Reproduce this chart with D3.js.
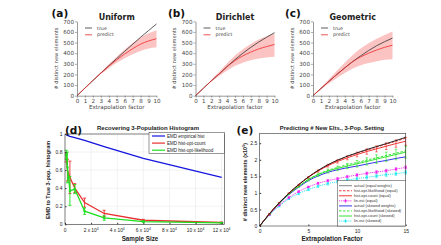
<!DOCTYPE html>
<html><head><meta charset="utf-8">
<script src="https://cdn.jsdelivr.net/npm/d3@7"></script>
<style>body{margin:0;background:#fff}svg{display:block}</style>
</head><body>
<svg id="c" width="441" height="245"></svg>
<script>
// ---------- top panels data ----------
const factors = [0,1,2,3,4,5,6,7,8,9,10];
const topTicksY = [0,100,200,300,400,500,600,700];
const uniformTrue = [0,72,143,213,282,350,418,484,550,613,675];
const uniformPred = [0,72,143,212,278,338,393,442,485,515,536];
const uniformLo   = [0,72,142,203,259,309,352,389,421,443,456];
const uniformHi   = [0,72,144,221,297,367,434,495,548,587,615];
const dirTrue = [0,70,140,205,275,340,400,455,505,550,593];
const dirPred = [0,70,140,205,272,330,375,410,440,462,482];
const dirLo   = [0,69,132,185,238,281,311,333,351,360,366];
const dirHi   = [0,71,148,225,306,378,437,487,528,560,588];
const geoTrue = [0,68,135,200,262,322,375,425,470,508,542];
const geoPred = [0,68,135,200,262,320,365,400,430,455,475];
const geoLo   = [0,60,115,166,213,256,287,307,325,339,343];
const geoHi   = [0,76,155,234,311,383,444,493,535,572,605];

// ---------- panel d data ----------
const sampleSizes = [937,1875,3750,7500,15000,30000,60000,120000];
const emdEmpirical = [0.99,0.985,0.975,0.96,0.93,0.86,0.73,0.52];
const emdCount     = [0.74,0.60,0.52,0.40,0.24,0.12,0.045,0.02];
const emdCountErr  = [0.05,0.12,0.18,0.05,0.05,0.035,0.01,0.005];
const emdLik       = [0.77,0.63,0.37,0.39,0.145,0.07,0.03,0.015];
const emdLikErr    = [0.05,0.17,0.16,0.05,0.035,0.025,0.008,0.005];
const dTicksX = [0,20000,40000,60000,80000,100000,120000];
const dTickMant = ["0","2","4","6","8","10","12"];
const dTicksY = [0,0.2,0.4,0.6,0.8,1];
const dLegend = ["EMD empirical hist","EMD hist-opt-count","EMD hist-opt-likelihood"];

// ---------- panel e data ----------
const extFactors = [0,1,2,3,4,5,6,7,8,9,10,11,12,13,14,15];
const actualEqual  = [0,0.37,0.70,0.99,1.25,1.48,1.68,1.85,1.99,2.11,2.21,2.31,2.40,2.49,2.58,2.68];
const likEqual     = [0,0.37,0.70,0.99,1.25,1.48,1.67,1.84,1.98,2.10,2.20,2.29,2.38,2.47,2.56,2.65];
const countEqual   = [0,0.37,0.70,0.99,1.24,1.47,1.66,1.82,1.95,2.06,2.16,2.25,2.33,2.41,2.49,2.56];
const countEqualErr= [0,0,0.01,0.01,0.02,0.02,0.03,0.04,0.05,0.06,0.07,0.08,0.09,0.10,0.11,0.12];
const linEqual     = [0,0.34,0.63,0.86,1.04,1.18,1.29,1.37,1.43,1.49,1.54,1.59,1.63,1.67,1.72,1.77];
const linEqualErr  = [0,0.01,0.01,0.02,0.02,0.02,0.03,0.03,0.03,0.03,0.04,0.04,0.04,0.04,0.04,0.04];
const actualSkew   = [0,0.36,0.68,0.95,1.17,1.37,1.51,1.62,1.70,1.76,1.81,1.87,1.93,1.98,2.04,2.09];
const likSkew      = [0,0.36,0.69,0.97,1.20,1.41,1.56,1.68,1.77,1.85,1.92,1.99,2.06,2.13,2.20,2.27];
const countSkew    = [0,0.36,0.69,0.97,1.20,1.40,1.55,1.66,1.74,1.81,1.88,1.95,2.02,2.09,2.16,2.23];
const countSkewErr = [0,0,0.01,0.02,0.03,0.04,0.05,0.06,0.07,0.08,0.10,0.11,0.13,0.14,0.16,0.18];
const linSkew      = [0,0.33,0.60,0.82,0.98,1.10,1.20,1.28,1.34,1.39,1.43,1.47,1.51,1.55,1.58,1.62];
const linSkewErr   = [0,0.01,0.02,0.02,0.03,0.03,0.03,0.04,0.04,0.04,0.04,0.05,0.05,0.05,0.05,0.05];
const eTicksX = [0,5,10,15];
const eTicksY = [0,0.5,1,1.5,2,2.5];
const eLegend = ["actual (equal weights)","hist-opt-likelihood (equal)","hist-opt-count  (equal)","lin-est (equal)",
                 "actual (skewed weights)","hist-opt-likelihood (skewed)","hist-opt-count (skewed)","lin-est (skewed)"];

const svg = d3.select("#c");
const MPL = "DejaVu Sans", ARI = "Liberation Sans";

// ---------- top panels ----------
function topPanel(x0, x1, tv, pv, lo, hi, title, letter, letterX) {
  const x = d3.scaleLinear().domain([0,10]).range([x0,x1]);
  const y = d3.scaleLinear().domain([0,700]).range([95.7,21.3]);
  const g = svg.append("g");
  g.append("path").datum(factors)
    .attr("d", d3.area().x(d=>x(d)).y0((d,i)=>y(lo[i])).y1((d,i)=>y(hi[i])).curve(d3.curveMonotoneX))
    .attr("fill","#fbb9b9").attr("opacity",0.85);
  g.append("path").datum(tv)
    .attr("d", d3.line().x((d,i)=>x(factors[i])).y(d=>y(d)).curve(d3.curveMonotoneX))
    .attr("fill","none").attr("stroke","#333").attr("stroke-width",0.8);
  g.append("path").datum(pv)
    .attr("d", d3.line().x((d,i)=>x(factors[i])).y(d=>y(d)).curve(d3.curveMonotoneX))
    .attr("fill","none").attr("stroke","#ee2a2a").attr("stroke-width",0.8);
  const ax = g.append("g").attr("transform",`translate(0,${y(0)})`)
    .call(d3.axisBottom(x).tickValues(factors).tickSize(2).tickSizeOuter(0).tickPadding(1));
  const ay = g.append("g").attr("transform",`translate(${x(0)},0)`)
    .call(d3.axisLeft(y).tickValues(topTicksY).tickSize(2).tickSizeOuter(0).tickPadding(1));
  [ax,ay].forEach(a=>{
    a.selectAll("path").attr("stroke","#555").attr("stroke-width",0.6);
    a.selectAll("line").attr("stroke","#555").attr("stroke-width",0.5);
    a.selectAll("text").attr("font-family",MPL).attr("font-size",5.6).attr("fill","#444");
  });
  const cx = (x0+x1)/2;
  g.append("text").attr("x",cx).attr("y",108.5).attr("text-anchor","middle")
    .attr("font-family",MPL).attr("font-size",5.6).attr("fill","#444").text("Extrapolation factor");
  g.append("text").attr("transform",`translate(${x0-19.5},${58.5}) rotate(-90)`).attr("text-anchor","middle")
    .attr("font-family",MPL).attr("font-size",5.1).attr("fill","#444").text("# distinct new elements");
  g.append("text").attr("x",cx).attr("y",19.5).attr("text-anchor","middle")
    .attr("font-family",MPL).attr("font-weight","bold").attr("font-size",8).attr("fill","#222").text(title);
  g.append("text").attr("x",letterX).attr("y",17).attr("font-family",MPL).attr("font-weight","bold")
    .attr("font-size",10.5).attr("fill","#111").text(letter);
  // legend
  [["#333","true",28],["#ee2a2a","predict",34.8]].forEach(([c,t,yy])=>{
    g.append("line").attr("x1",x0+8).attr("x2",x0+15).attr("y1",yy).attr("y2",yy).attr("stroke",c).attr("stroke-width",0.8);
    g.append("text").attr("x",x0+20).attr("y",yy+1.6).attr("font-family",MPL).attr("font-size",4.8).attr("fill","#444").text(t);
  });
}
topPanel(77,156.5,uniformTrue,uniformPred,uniformLo,uniformHi,"Uniform","(a)",51.5);
topPanel(195.5,274.5,dirTrue,dirPred,dirLo,dirHi,"Dirichlet","(b)",168);
topPanel(313,392.5,geoTrue,geoPred,geoLo,geoHi,"Geometric","(c)",285);

// ---------- panel d ----------
(function(){
  const x = d3.scaleLinear().domain([0,122000]).range([65,224.3]);
  const y = d3.scaleLinear().domain([0,1]).range([224.3,134]);
  const g = svg.append("g");
  // grid
  g.selectAll(".gx").data(dTicksX).join("line").attr("x1",d=>x(d)).attr("x2",d=>x(d))
    .attr("y1",y(0)).attr("y2",y(1)).attr("stroke","#e4e4e4").attr("stroke-width",0.5);
  g.selectAll(".gy").data(dTicksY).join("line").attr("y1",d=>y(d)).attr("y2",d=>y(d))
    .attr("x1",x(0)).attr("x2",x(122000)).attr("stroke","#e4e4e4").attr("stroke-width",0.5);
  const ln = d3.line().x((d,i)=>x(sampleSizes[i])).y(d=>y(d));
  g.append("path").datum(emdEmpirical).attr("d",ln).attr("fill","none").attr("stroke","#1515e0").attr("stroke-width",1.3);
  function errs(vals, errv, col){
    sampleSizes.forEach((s,i)=>{
      const xx=x(s), a=y(vals[i]-errv[i]), b=y(vals[i]+errv[i]);
      g.append("line").attr("x1",xx).attr("x2",xx).attr("y1",a).attr("y2",b).attr("stroke",col).attr("stroke-width",0.9);
      [a,b].forEach(yy=>g.append("line").attr("x1",xx-1.5).attr("x2",xx+1.5).attr("y1",yy).attr("y2",yy).attr("stroke",col).attr("stroke-width",0.9));
    });
  }
  g.append("path").datum(emdCount).attr("d",ln).attr("fill","none").attr("stroke","#e83030").attr("stroke-width",1.3);
  errs(emdCount, emdCountErr, "#e83030");
  g.append("path").datum(emdLik).attr("d",ln).attr("fill","none").attr("stroke","#1ee01e").attr("stroke-width",1.3);
  errs(emdLik, emdLikErr, "#1ee01e");
  g.selectAll(".mk").data(emdLik).join("rect").attr("x",(d,i)=>x(sampleSizes[i])-1.1).attr("y",d=>y(d)-1.1)
    .attr("width",2.2).attr("height",2.2).attr("fill","#1ee01e");
  // box
  g.append("rect").attr("x",x(0)).attr("y",y(1)).attr("width",x(122000)-x(0)).attr("height",y(0)-y(1))
    .attr("fill","none").attr("stroke","#333").attr("stroke-width",0.6);
  // ticks
  const ay = g.append("g").attr("transform",`translate(${x(0)},0)`)
    .call(d3.axisLeft(y).tickValues(dTicksY).tickFormat(d=>d===0?"0":d===1?"1":d3.format(".1f")(d)).tickSize(-1.5).tickSizeOuter(0).tickPadding(2.5));
  ay.select("path").remove();
  ay.selectAll("line").attr("stroke","#333");
  ay.selectAll("text").attr("font-family",ARI).attr("font-size",5).attr("fill","#222");
  const ax = g.append("g").attr("transform",`translate(0,${y(0)})`)
    .call(d3.axisBottom(x).tickValues(dTicksX).tickFormat("").tickSize(-1.5).tickSizeOuter(0));
  ax.select("path").remove();
  ax.selectAll("line").attr("stroke","#333");
  dTicksX.forEach((t,i)=>{
    const tx = g.append("text").attr("x",x(t)).attr("y",231.5).attr("text-anchor","middle")
      .attr("font-family",ARI).attr("font-size",4.8).attr("fill","#222");
    if(t===0){ tx.text("0"); }
    else { tx.append("tspan").text(dTickMant[i]+" x 10"); tx.append("tspan").attr("dy",-1.8).attr("font-size",3.4).text("4"); }
  });
  g.append("text").attr("x",140).attr("y",241).attr("text-anchor","middle").attr("font-family",ARI)
    .attr("font-weight","bold").attr("font-size",6.3).attr("fill","#222").text("Sample Size");
  g.append("text").attr("transform","translate(50,180) rotate(-90)").attr("text-anchor","middle").attr("font-family",ARI)
    .attr("font-weight","bold").attr("font-size",5.5).attr("fill","#222").text("EMD to True 3-pop. histogram");
  g.append("text").attr("x",148).attr("y",129.5).attr("text-anchor","middle").attr("font-family",ARI)
    .attr("font-weight","bold").attr("font-size",6).attr("fill","#222").text("Recovering 3-Population Histogram");
  g.append("text").attr("x",65).attr("y",133.5).attr("font-family",MPL).attr("font-weight","bold")
    .attr("font-size",10.5).attr("fill","#111").text("(d)");
  // legend
  g.append("rect").attr("x",149).attr("y",132.7).attr("width",75.3).attr("height",20.6)
    .attr("fill","#fff").attr("stroke","#333").attr("stroke-width",0.5);
  const cols = ["#1515e0","#e83030","#1ee01e"];
  dLegend.forEach((t,i)=>{
    const yy = 136 + i*7.1;
    g.append("line").attr("x1",152).attr("x2",165).attr("y1",yy).attr("y2",yy).attr("stroke",cols[i]).attr("stroke-width",1.2);
    g.append("text").attr("x",167).attr("y",yy+1.6).attr("font-family",ARI).attr("font-size",4.5).attr("fill","#222").text(t);
  });
})();

// ---------- panel e ----------
(function(){
  const x = d3.scaleLinear().domain([0,15]).range([259.7,405.7]);
  const y = d3.scaleLinear().domain([0,2.8]).range([226,133.3]);
  const g = svg.append("g");
  const ln = d3.line().x((d,i)=>x(extFactors[i])).y(d=>y(d)).curve(d3.curveMonotoneX);
  function series(vals, col, dash, w){
    g.append("path").datum(vals).attr("d",ln).attr("fill","none").attr("stroke",col)
      .attr("stroke-width",w||0.9).attr("stroke-dasharray",dash||null);
  }
  function errs(vals, errv, col, marker){
    extFactors.forEach((f,i)=>{
      if(i===0) return;
      const xx=x(f), a=y(vals[i]-errv[i]), b=y(vals[i]+errv[i]);
      g.append("line").attr("x1",xx).attr("x2",xx).attr("y1",a).attr("y2",b).attr("stroke",col).attr("stroke-width",0.6);
      [a,b].forEach(yy=>g.append("line").attr("x1",xx-1.3).attr("x2",xx+1.3).attr("y1",yy).attr("y2",yy).attr("stroke",col).attr("stroke-width",0.6));
      if(marker) g.append("rect").attr("x",xx-1).attr("y",y(vals[i])-1).attr("width",2).attr("height",2).attr("fill",col);
    });
  }
  series(linSkew,"#22e8f0","1.2 0.9",0.9); errs(linSkew,linSkewErr,"#22e8f0",true);
  series(linEqual,"#f020f0","1.2 0.9",0.9); errs(linEqual,linEqualErr,"#f020f0",true);
  series(actualSkew,"#2020e8",null,0.9);
  series(countSkew,"#20e020",null,0.9); errs(countSkew,countSkewErr,"#20e020",false);
  series(likSkew,"#20e020","2.5 1.5",0.9);
  series(countEqual,"#f02020",null,0.9); errs(countEqual,countEqualErr,"#f02020",false);
  series(likEqual,"#f02020","2.5 1.5",0.9);
  series(actualEqual,"#111",null,0.9);
  g.append("rect").attr("x",x(0)).attr("y",y(2.8)).attr("width",x(15)-x(0)).attr("height",y(0)-y(2.8))
    .attr("fill","none").attr("stroke","#333").attr("stroke-width",0.6);
  const ay = g.append("g").attr("transform",`translate(${x(0)},0)`)
    .call(d3.axisLeft(y).tickValues(eTicksY).tickFormat(d=>String(d)).tickSize(-1.5).tickSizeOuter(0).tickPadding(2.5));
  ay.select("path").remove();
  ay.selectAll("line").attr("stroke","#333");
  ay.selectAll("text").attr("font-family",ARI).attr("font-size",5).attr("fill","#222");
  const ax = g.append("g").attr("transform",`translate(0,${y(0)})`)
    .call(d3.axisBottom(x).tickValues(eTicksX).tickSize(-1.5).tickSizeOuter(0).tickPadding(3));
  ax.select("path").remove();
  ax.selectAll("line").attr("stroke","#333");
  ax.selectAll("text").attr("font-family",ARI).attr("font-size",5).attr("fill","#222");
  g.append("text").attr("x",332).attr("y",241).attr("text-anchor","middle").attr("font-family",ARI)
    .attr("font-weight","bold").attr("font-size",6.3).attr("fill","#222").text("Extrapolation Factor");
  const yl = g.append("text").attr("transform","translate(247,182) rotate(-90)").attr("text-anchor","middle").attr("font-family",ARI)
    .attr("font-weight","bold").attr("font-size",5.5).attr("fill","#222");
  yl.append("tspan").text("# distinct new elements (x10");
  yl.append("tspan").attr("dy",-1.8).attr("font-size",3.8).text("5");
  yl.append("tspan").attr("dy",1.8).text(")");
  g.append("text").attr("x",332).attr("y",130).attr("text-anchor","middle").attr("font-family",ARI)
    .attr("font-weight","bold").attr("font-size",5.9).attr("fill","#222").text("Predicting # New Elts., 3-Pop. Setting");
  g.append("text").attr("x",236.5).attr("y",134).attr("font-family",MPL).attr("font-weight","bold")
    .attr("font-size",10.5).attr("fill","#111").text("(e)");
  // legend
  g.append("rect").attr("x",337.3).attr("y",180.5).attr("width",68.4).attr("height",45.5)
    .attr("fill","#fff").attr("stroke","#333").attr("stroke-width",0.5);
  const st = [["#777",null,false],["#f02020","2.5 1.5",false],["#f02020",null,false],["#f020f0","1.2 0.9",true],
              ["#2020e8",null,false],["#20e020","2.5 1.5",false],["#20e020",null,false],["#22e8f0","1.2 0.9",true]];
  eLegend.forEach((t,i)=>{
    const yy = 185.7 + i*5.05;
    g.append("line").attr("x1",339).attr("x2",352).attr("y1",yy).attr("y2",yy).attr("stroke",st[i][0])
      .attr("stroke-width",0.9).attr("stroke-dasharray",st[i][1]);
    if(st[i][2]){
      g.append("line").attr("x1",345.5).attr("x2",345.5).attr("y1",yy-2).attr("y2",yy+2).attr("stroke",st[i][0]).attr("stroke-width",0.6);
      g.append("rect").attr("x",344.5).attr("y",yy-1).attr("width",2).attr("height",2).attr("fill",st[i][0]);
    }
    g.append("text").attr("x",354).attr("y",yy+1.4).attr("font-family",ARI).attr("font-size",3.9).attr("fill","#333").text(t);
  });
})();
</script>
</body></html>
